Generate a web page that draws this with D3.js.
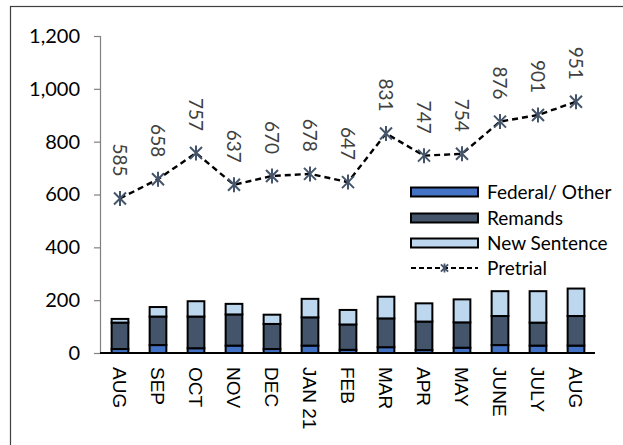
<!DOCTYPE html>
<html>
<head>
<meta charset="utf-8">
<script src="https://cdn.jsdelivr.net/npm/d3@7"></script>
<style>
  body { margin: 0; background: #fff; }
  svg { display: block; }
  text { font-family: Lato, "Open Sans", sans-serif; }
</style>
</head>
<body>
<div id="chart"></div>
<script>
// data
const months = ["AUG", "SEP", "OCT", "NOV", "DEC", "JAN 21", "FEB", "MAR", "APR", "MAY", "JUNE", "JULY", "AUG"];
const federal = [15, 30, 18, 28, 15, 28, 12, 22, 11, 20, 30, 28, 28];
const remands = [100, 108, 120, 118, 95, 107, 96, 109, 108, 96, 110, 87, 112];
const newSentence = [14, 36, 58, 40, 35, 70, 55, 82, 69, 87, 94, 119, 104];
const pretrial = [585, 658, 757, 637, 670, 678, 647, 831, 747, 754, 876, 901, 951];
const yTicks = [0, 200, 400, 600, 800, 1000, 1200];

const seriesNames = ["Federal/ Other", "Remands", "New Sentence"];
const colors = ["#4472C4", "#44546A", "#BDD7EE"];

const width = 623;
const height = 445;

const svg = d3.select("#chart")
              .append("svg")
              .attr("width", width)
              .attr("height", height);

// frame (only top & left edges inside the window)
svg.append("rect")
   .attr("x", 10.5).attr("y", 6.5)
   .attr("width", 640).attr("height", 460)
   .attr("fill", "none")
   .attr("stroke", "#404040")
   .attr("stroke-width", 1.2);

const x = d3.scaleBand()
            .domain(months.map((d, i) => i))
            .range([101, 595])
            .paddingInner(0.56)
            .paddingOuter(0.28);

const y = d3.scaleLinear()
            .domain([0, 1200])
            .range([353, 36]);

// y axis
const yAxis = svg.append("g")
                 .attr("transform", "translate(100,0)")
                 .call(d3.axisLeft(y).tickValues(yTicks).tickSize(6).tickPadding(14)
                         .tickFormat(d3.format(",")));
yAxis.select(".domain").attr("stroke", "#808080").attr("stroke-width", 1.2);
yAxis.selectAll(".tick line").attr("stroke", "#808080").attr("stroke-width", 1.2);
yAxis.selectAll(".tick text")
     .attr("font-size", 20)
     .attr("fill", "#000")
     .style("font-family", "Lato, sans-serif");

// stacked bars
const table = months.map((m, i) => ({ i: i, f: federal[i], r: remands[i], n: newSentence[i] }));
const stack = d3.stack().keys(["f", "r", "n"])(table);

stack.forEach((layer, k) => {
  svg.append("g")
     .selectAll("rect")
     .data(layer)
     .join("rect")
     .attr("x", d => x(d.data.i))
     .attr("y", d => y(d[1]))
     .attr("width", x.bandwidth())
     .attr("height", d => y(d[0]) - y(d[1]))
     .attr("fill", colors[k])
     .attr("stroke", "#000")
     .attr("stroke-width", 2);
});

// x axis line
svg.append("line")
   .attr("x1", 100).attr("x2", 595)
   .attr("y1", y(0)).attr("y2", y(0))
   .attr("stroke", "#000")
   .attr("stroke-width", 2.2);

// category labels, rotated clockwise
svg.append("g")
   .selectAll("text")
   .data(months)
   .join("text")
   .attr("transform", (d, i) => "translate(" + (x(i) + x.bandwidth() / 2) + ",367) rotate(90)")
   .attr("dy", "0.35em")
   .attr("font-size", 19)
   .style("font-family", "'Liberation Sans', Arial, sans-serif")
   .attr("fill", "#000")
   .text(d => d);

// pretrial line
const cx = i => x(i) + x.bandwidth() / 2;
const line = d3.line()
               .x((d, i) => cx(i))
               .y(d => y(d));

svg.append("path")
   .datum(pretrial)
   .attr("d", line)
   .attr("fill", "none")
   .attr("stroke", "#000")
   .attr("stroke-width", 2.4)
   .attr("stroke-dasharray", "6,4");

const star = "M-6,-6L6,6M-6,6L6,-6M0,-7.5L0,7.5";

svg.append("g")
   .selectAll("path")
   .data(pretrial)
   .join("path")
   .attr("transform", (d, i) => "translate(" + cx(i) + "," + y(d) + ")")
   .attr("d", star)
   .attr("fill", "none")
   .attr("stroke", "#44546A")
   .attr("stroke-width", 2);

// value labels, rotated clockwise above the points
svg.append("g")
   .selectAll("text")
   .data(pretrial)
   .join("text")
   .attr("transform", (d, i) => "translate(" + cx(i) + "," + (y(d) - 22) + ") rotate(90)")
   .attr("text-anchor", "end")
   .attr("dy", "0.35em")
   .attr("font-size", 19)
   .attr("fill", "#404040")
   .text(d => d);

// legend
const legend = svg.append("g");
const lx = 411, lw = 67, tx = 487;
const rows = [192, 218, 243, 268];

seriesNames.forEach((name, k) => {
  legend.append("rect")
        .attr("x", lx).attr("y", rows[k] - 4.5)
        .attr("width", lw).attr("height", 9)
        .attr("fill", colors[k])
        .attr("stroke", "#000")
        .attr("stroke-width", 2);
  legend.append("text")
        .attr("x", tx).attr("y", rows[k])
        .attr("dy", "0.35em")
        .attr("font-size", 19)
        .attr("fill", "#000")
        .text(name);
});

legend.append("line")
      .attr("x1", lx).attr("x2", lx + lw)
      .attr("y1", rows[3]).attr("y2", rows[3])
      .attr("stroke", "#000")
      .attr("stroke-width", 2)
      .attr("stroke-dasharray", "5,3");
legend.append("path")
      .attr("transform", "translate(" + (lx + lw / 2) + "," + rows[3] + ") scale(0.6)")
      .attr("d", star)
      .attr("fill", "none")
      .attr("stroke", "#44546A")
      .attr("stroke-width", 3);
legend.append("text")
      .attr("x", tx).attr("y", rows[3])
      .attr("dy", "0.35em")
      .attr("font-size", 19)
      .attr("fill", "#000")
      .text("Pretrial");
</script>
</body>
</html>
